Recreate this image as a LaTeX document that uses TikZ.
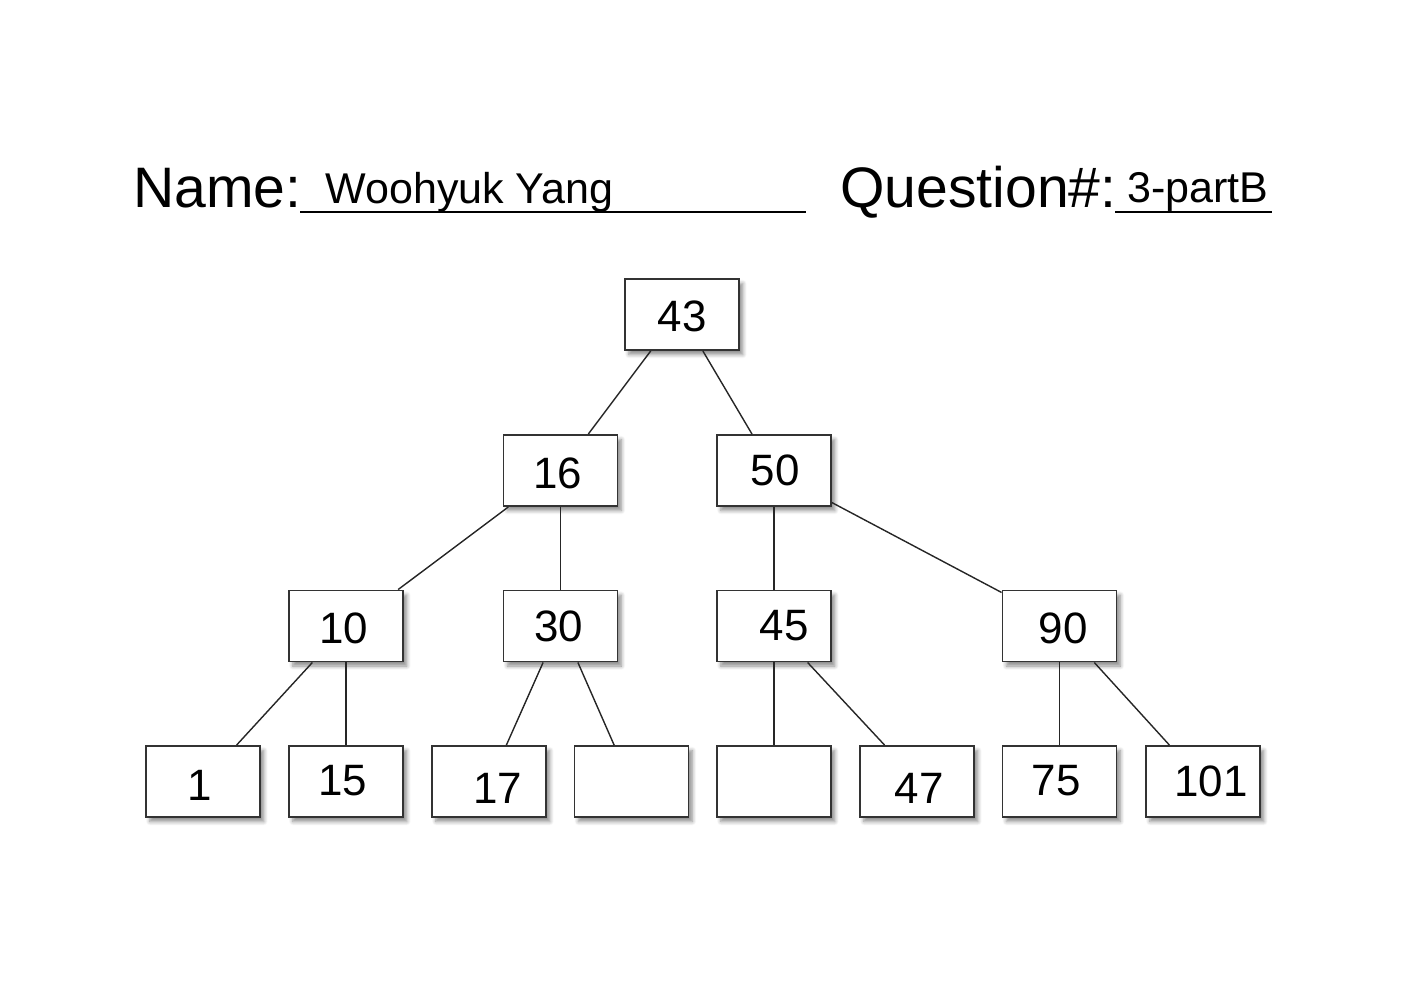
\documentclass[tikz,border=0pt]{standalone}
\usepackage{fontspec}
\setmainfont{Liberation Sans}
\usetikzlibrary{calc,shadows.blur}

\tikzset{
  treebox/.style={draw=black!80, line width=1.1pt, fill=white, rectangle,
    minimum width=2.28cm, minimum height=1.42cm, inner sep=0pt,
    blur shadow={shadow xshift=2.2pt, shadow yshift=-2.6pt, shadow blur steps=6,
      shadow blur radius=2.2pt, shadow opacity=45}},
  val/.style={font=\fontsize{25}{30}\selectfont, inner sep=0pt},
  link/.style={draw=black!85, line width=0.8pt},
  head/.style={font=\fontsize{32.5}{38}\selectfont, inner sep=0pt, anchor=base west},
  fill-in/.style={font=\fontsize{24.5}{30}\selectfont, inner sep=0pt, anchor=base west},
  rule/.style={draw=black, line width=1.3pt}
}

% edge from the bottom of #1 (fraction #2 of its width) to the top of #3 (fraction #4)
\newcommand\treeedge[4]{\draw[link] ($(#1.south west)!#2!(#1.south east)$) -- ($(#3.north west)!#4!(#3.north east)$);}

\begin{document}
\begin{tikzpicture}[x=0.02cm, y=-0.02cm]
\useasboundingbox (0,0) rectangle (1403,992);

% heading line
\node[head] (namelbl) at (133,207) {Name:};
\coordinate (nameA) at (300,212);
\coordinate (nameB) at (806,212);
\draw[rule] (nameA) -- (nameB);
\node[fill-in] (nameval) at (325,203) {Woohyuk Yang};

\node[head] (qlbl) at (840,207) {Question\#:};
\coordinate (qA) at (1115,212);
\coordinate (qB) at (1272,212);
\draw[rule] (qA) -- (qB);
\node[fill-in] (qval) at (1127,202) {3-partB};

% boxes
\node[treebox] (b43) at (682,314.5) {};
\node[treebox] (b16) at (560.5,470.5) {};
\node[treebox] (b50) at (774,470.5) {};
\node[treebox] (b10) at (346,626) {};
\node[treebox] (b30) at (560.5,626) {};
\node[treebox] (b45) at (774,626) {};
\node[treebox] (b90) at (1059.5,626) {};
\node[treebox] (b1)   at (203,781.5) {};
\node[treebox] (b15)  at (346,781.5) {};
\node[treebox] (b17)  at (489,781.5) {};
\node[treebox] (bE1)  at (631.5,781.5) {};
\node[treebox] (bE2)  at (774,781.5) {};
\node[treebox] (b47)  at (917,781.5) {};
\node[treebox] (b75)  at (1059.5,781.5) {};
\node[treebox] (b101) at (1203,781.5) {};

% values
\node[val] (v43) at (682,316) {43};
\node[val] (v16) at (558,473) {16};
\node[val] (v50) at (775,470) {50};
\node[val] (v10) at (344,628) {10};
\node[val] (v30) at (559,626) {30};
\node[val] (v45) at (784,626) {45};
\node[val] (v90) at (1063,628) {90};
\node[val] (v1)   at (200,785) {1};
\node[val] (v15)  at (343,781) {15};
\node[val] (v17)  at (498,788) {17};
\node[val] (v47)  at (919,788) {47};
\node[val] (v75)  at (1056,781) {75};
\node[val] (v101) at (1211,781) {101};

% connectors
\treeedge{b43}{0.23}{b16}{0.74}
\treeedge{b43}{0.68}{b50}{0.31}
\treeedge{b16}{0.05}{b10}{0.95}
\treeedge{b16}{0.5}{b30}{0.5}
\treeedge{b50}{0.5}{b45}{0.5}
\draw[link] ($(b50.north east)!0.94!(b50.south east)$) -- ($(b90.north west)!0.04!(b90.south west)$);
\treeedge{b10}{0.21}{b1}{0.79}
\treeedge{b10}{0.5}{b15}{0.5}
\treeedge{b30}{0.35}{b17}{0.65}
\treeedge{b30}{0.65}{bE1}{0.35}
\treeedge{b45}{0.5}{bE2}{0.5}
\treeedge{b45}{0.79}{b47}{0.22}
\treeedge{b90}{0.5}{b75}{0.5}
\treeedge{b90}{0.8}{b101}{0.21}
\end{tikzpicture}
\end{document}
